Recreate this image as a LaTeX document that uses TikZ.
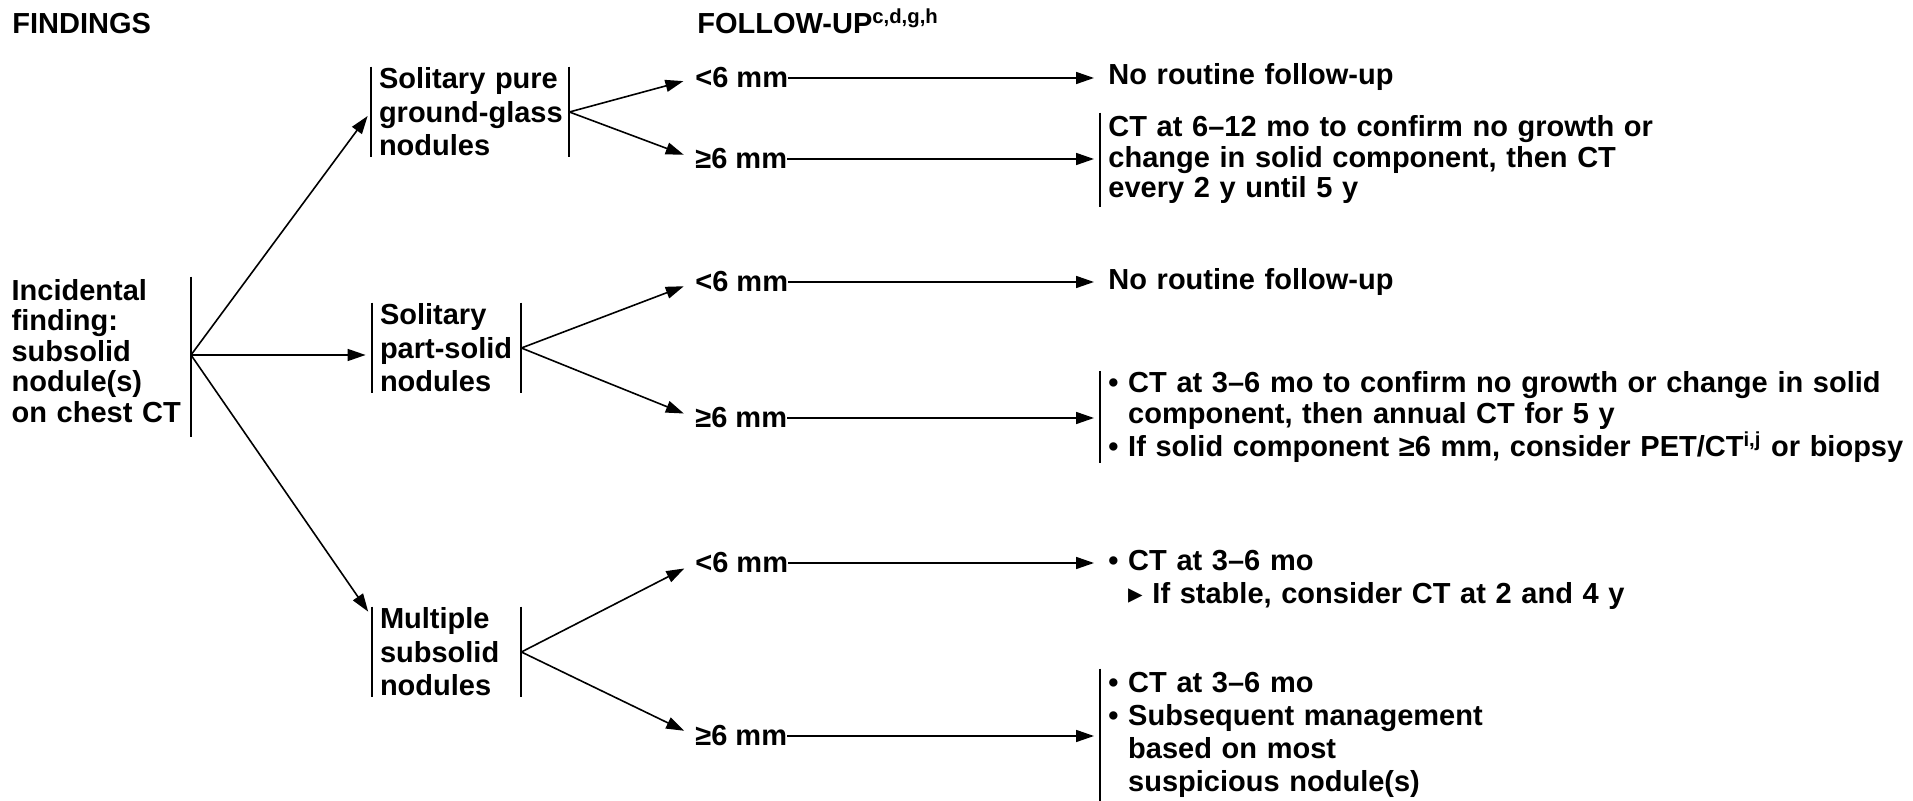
\documentclass[tikz,border=0pt]{standalone}
\usepackage{fontspec}
\setmainfont{Liberation Sans}
\newfontfamily\symfont{DejaVu Sans}
\usetikzlibrary{arrows.meta}

\tikzset{lines/.style={font=\fontsize{14.5pt}{#1}\selectfont\bfseries}}
\tikzstyle{txt}=[inner sep=0pt, lines=15.5pt]
\tikzstyle{cat}=[txt, align=left, inner xsep=4pt, minimum height=45pt, lines=16.75pt]
\tikzstyle{result}=[txt, align=left, anchor=west, inner xsep=4pt, text width=405pt]
\tikzstyle{arr}=[line width=0.8pt, -{Triangle[length=9pt,width=6pt]}]
\tikzstyle{bar}=[line width=1pt]

\newcommand{\bul}{\textbullet\ }
\newcommand{\ind}{\phantom{\textbullet\ }}

\begin{document}
\begin{tikzpicture}[x=0.5pt, y=-0.5pt]
    \useasboundingbox (0,0) rectangle (1913,801);
    % column heads
    \node[txt, anchor=base west] (findings) at (12,34) {FINDINGS};
    \node[txt, anchor=base west] (followup) at (697,34) {FOLLOW-UP\textsuperscript{c,d,g,h}};

    % findings
    \node[cat, text width=85.5pt, minimum height=80pt, lines=15.25pt, anchor=east] (inc) at (191,351) {Incidental\\finding:\\subsolid\\nodule(s)\\on chest CT};
    \coordinate (fork) at ([yshift=-2pt]inc.east);
    \node[cat, text width=91pt] (pure) at (470,112) {Solitary pure\\\mbox{ground-glass}\\nodules};
    \node[cat, text width=66.5pt] (part) at (446.5,348) {Solitary\\part-solid\\nodules};
    \node[cat, text width=66.5pt] (multi) at (446.5,652) {Multiple\\subsolid\\nodules};

    % size
    \node[txt, anchor=west] (lt1) at (695,78) {<6 mm};
    \node[txt, anchor=west] (ge1) at (695,159) {≥6 mm};
    \node[txt, anchor=west] (lt2) at (695,282) {<6 mm};
    \node[txt, anchor=west] (ge2) at (695,418) {≥6 mm};
    \node[txt, anchor=west] (lt3) at (695,563) {<6 mm};
    \node[txt, anchor=west] (ge3) at (695,736) {≥6 mm};

    % follow-up
    \node[result] (res1) at (1100,77) {No routine follow-up};
    \node[result, minimum height=47pt, lines=15.25pt] (res2) at (1100,160) {CT at 6–12 mo to confirm no growth or\\change in solid component, then CT\\every 2 y until 5 y};
    \node[result] (res3) at (1100,282) {No routine follow-up};
    \node[result, minimum height=45.5pt, lines=15.5pt] (res4) at (1100,417) {\bul CT at 3–6 mo to confirm no growth or change in solid\\\ind component, then annual CT for 5 y\\\bul If solid component ≥6 mm, consider PET/CT\textsuperscript{i,j} or biopsy};
    \node[result, lines=16.5pt] (res5) at (1100,580) {\bul CT at 3–6 mo\\\ind{\symfont ▸} If stable, consider CT at 2 and 4 y};
    \node[result, minimum height=66pt, lines=16.5pt] (res6) at (1100,735) {\bul CT at 3–6 mo\\\bul Subsequent management\\\ind based on most\\\ind suspicious nodule(s)};

    % bars
    \draw[bar] ([yshift=-3pt]inc.north east) -- ([yshift=-3pt]inc.south east);
    \foreach \n in {pure,part,multi}
        \draw[bar] (\n.north west) -- (\n.south west) (\n.north east) -- (\n.south east);
    \foreach \n in {res2,res4,res6}
        \draw[bar] (\n.north west) -- (\n.south west);

    % arrows
    \draw[arr, shorten >=2.5pt] (fork) -- (pure.west);
    \draw[arr, shorten >=3pt] (fork) -- (fork -| part.west);
    \draw[arr, shorten >=3pt] (fork) -- ([yshift=-5pt]multi.north west);
    \foreach \a/\b/\c in {pure/lt1/ge1, part/lt2/ge2, multi/lt3/ge3} {
        \draw[arr, shorten >=6pt] (\a.east) -- (\b.west);
        \draw[arr, shorten >=6pt] (\a.east) -- (\c.west);
    }
    \foreach \lab/\res in {lt1/res1, ge1/res2, lt2/res3, ge2/res4, lt3/res5, ge3/res6}
        \draw[arr, shorten >=3pt] (\lab.east) -- (\lab.east -| \res.west);
\end{tikzpicture}
\end{document}
